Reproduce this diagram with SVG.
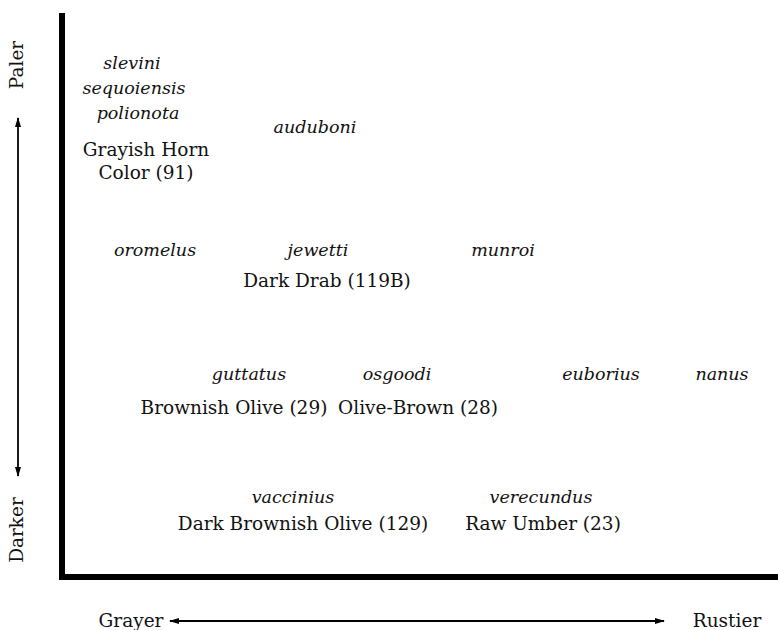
<svg xmlns="http://www.w3.org/2000/svg" width="778" height="630" viewBox="0 0 778 630">
<defs>
<marker id="ah" viewBox="0 0 10 6" refX="9" refY="3" markerWidth="10" markerHeight="6" markerUnits="userSpaceOnUse" orient="auto-start-reverse">
<path d="M0,0 L10,3 L0,6 Z" fill="#000"/>
</marker>
<style>
.t{font-family:"DejaVu Serif","Liberation Serif",serif;font-size:18.5px;fill:#111;text-anchor:middle}
.i{font-style:italic;font-size:17.5px}
.ax{stroke:#000;stroke-width:6;fill:none}
.ar{stroke:#000;stroke-width:1.8;fill:none}
</style>
</defs>
<rect width="778" height="630" fill="#fff"/>
<g id="axes">
<path class="ax" d="M62,13 V577 H778"/>
</g>
<g id="connectors">
<line class="ar" x1="18" y1="118" x2="18" y2="476" marker-start="url(#ah)" marker-end="url(#ah)"/>
<line class="ar" x1="170" y1="621" x2="664" y2="621" marker-start="url(#ah)" marker-end="url(#ah)"/>
</g>
<g id="axis-labels">
<text class="t" transform="translate(23,65) rotate(-90)">Paler</text>
<text class="t" transform="translate(23,530) rotate(-90)">Darker</text>
<text class="t" x="131" y="627">Grayer</text>
<text class="t" x="727" y="627">Rustier</text>
</g>
<g id="n-grayish-horn">
<text class="t i" x="132" y="69">slevini</text>
<text class="t i" x="134" y="94">sequoiensis</text>
<text class="t i" x="138" y="119">polionota</text>
<text class="t" x="146" y="156">Grayish Horn</text>
<text class="t" x="146" y="179">Color (91)</text>
</g>
<g id="n-auduboni">
<text class="t i" x="315" y="133">auduboni</text>
</g>
<g id="n-oromelus">
<text class="t i" x="155" y="256">oromelus</text>
</g>
<g id="n-dark-drab">
<text class="t i" x="318" y="256">jewetti</text>
<text class="t" x="327" y="287">Dark Drab (119B)</text>
</g>
<g id="n-munroi">
<text class="t i" x="503" y="256">munroi</text>
</g>
<g id="n-brownish-olive">
<text class="t i" x="249" y="380">guttatus</text>
<text class="t" x="234" y="414">Brownish Olive (29)</text>
</g>
<g id="n-olive-brown">
<text class="t i" x="397" y="380">osgoodi</text>
<text class="t" x="418" y="414">Olive-Brown (28)</text>
</g>
<g id="n-euborius">
<text class="t i" x="601" y="380">euborius</text>
</g>
<g id="n-nanus">
<text class="t i" x="722" y="380">nanus</text>
</g>
<g id="n-dark-brownish-olive">
<text class="t i" x="293" y="503">vaccinius</text>
<text class="t" x="303" y="530">Dark Brownish Olive (129)</text>
</g>
<g id="n-raw-umber">
<text class="t i" x="541" y="503">verecundus</text>
<text class="t" x="543" y="530">Raw Umber (23)</text>
</g>
</svg>
